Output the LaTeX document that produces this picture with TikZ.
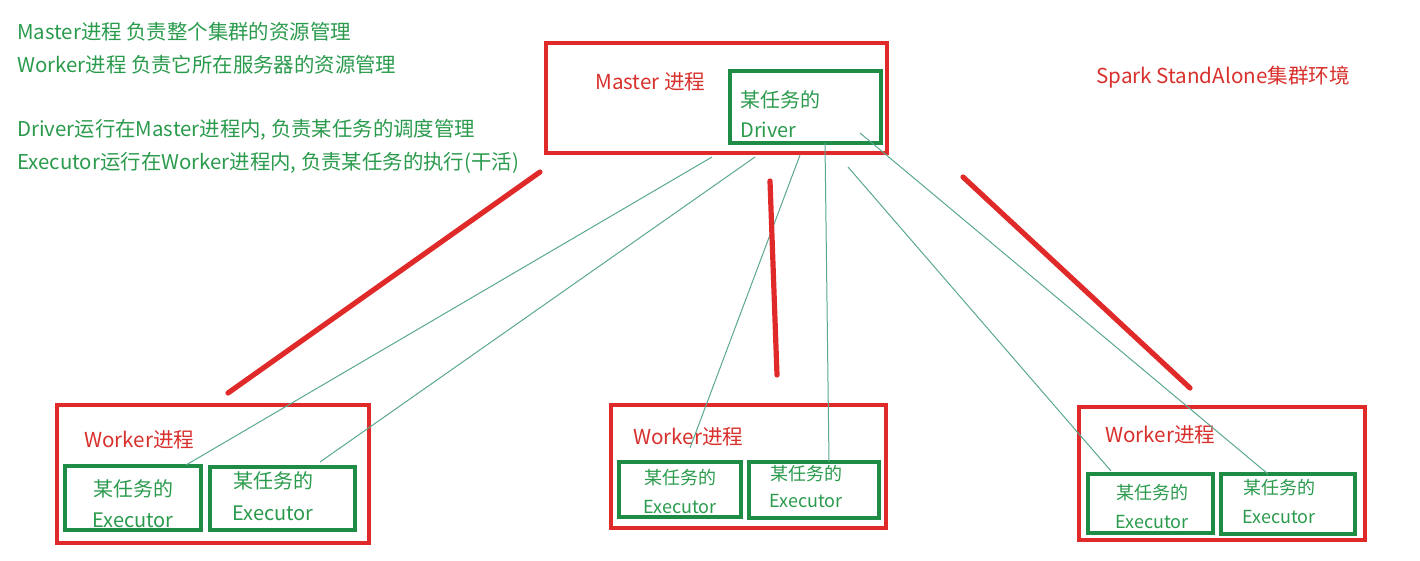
\documentclass[tikz,border=0pt]{standalone}
\usepackage{fontspec}
\setmainfont{Noto Sans CJK SC}
\definecolor{txtgreen}{HTML}{2A9A4C}
\definecolor{boxgreen}{HTML}{1E8C45}
\definecolor{boxred}{HTML}{E02A2A}
\definecolor{txtred}{HTML}{D8302C}
\definecolor{linkc}{HTML}{5AA890}
\tikzset{
  redbox/.style={draw=boxred,line width=2pt,inner sep=0pt},
  greenbox/.style={draw=boxgreen,line width=2pt,inner sep=0pt},
  note/.style={text=txtgreen,font=\fontsize{10.2}{12}\selectfont,anchor=west,inner sep=0pt},
  redlabel/.style={text=txtred,font=\fontsize{10.3}{12}\selectfont,anchor=west,inner sep=0pt},
  glabel/.style={text=txtgreen,font=\fontsize{10}{12}\selectfont,inner sep=0pt},
  slabel/.style={text=txtgreen,font=\fontsize{9}{11}\selectfont,inner sep=0pt},
  link/.style={draw=linkc,line width=0.5pt},
  stroke/.style={draw=boxred,line width=2.6pt,line cap=round}
}
\begin{document}
\begin{tikzpicture}[x=0.5pt,y=-0.5pt]
\useasboundingbox (0,0) rectangle (1420,561);
% notes
\node[note] (n1) at (17,32) {Master进程 负责整个集群的资源管理};
\node[note] (n2) at (17,65) {Worker进程 负责它所在服务器的资源管理};
\node[note] (n3) at (17,130) {Driver运行在Master进程内, 负责某任务的调度管理};
\node[note] (n4) at (17,163) {Executor运行在Worker进程内, 负责某任务的执行(干活)};
\node[redlabel] (title) at (1096,77) {Spark StandAlone集群环境};
% master
\node[redbox,minimum width=170.5pt,minimum height=55pt] (master) at (716.5,98) {};
\node[redlabel] (mlab) at (595,82) {Master 进程};
\node[greenbox,minimum width=75.5pt,minimum height=36pt] (driver) at (805.5,107) {};
\node[glabel,anchor=west] (d1) at (740,100) {某任务的};
\node[glabel,anchor=west] (d2) at (740,130) {Driver};
% worker 1
\node[redbox,minimum width=156pt,minimum height=69pt] (w1) at (213,474) {};
\node[redlabel] (w1lab) at (84,440) {Worker进程};
\node[greenbox,minimum width=68pt,minimum height=32pt] (e1) at (133,498) {};
\node[glabel] (e1a) at (133,489) {某任务的};
\node[glabel] (e1b) at (133,520) {Executor};
\node[greenbox,minimum width=72.5pt,minimum height=31.5pt] (e2) at (282.5,498.5) {};
\node[glabel] (e2a) at (273,481) {某任务的};
\node[glabel] (e2b) at (273,513) {Executor};
% worker 2
\node[redbox,minimum width=137.5pt,minimum height=61.5pt] (w2) at (748.5,466.5) {};
\node[redlabel] (w2lab) at (633,437) {Worker进程};
\node[greenbox,minimum width=61pt,minimum height=27.5pt] (e3) at (680,489.5) {};
\node[slabel] (e3a) at (680,478) {某任务的};
\node[slabel] (e3b) at (680,507) {Executor};
\node[greenbox,minimum width=65pt,minimum height=28pt] (e4) at (814,490) {};
\node[slabel] (e4a) at (806,474) {某任务的};
\node[slabel] (e4b) at (806,501) {Executor};
% worker 3
\node[redbox,minimum width=143pt,minimum height=66.5pt] (w3) at (1222,473.5) {};
\node[redlabel] (w3lab) at (1105,435) {Worker进程};
\node[greenbox,minimum width=62.5pt,minimum height=29.5pt] (e5) at (1150.5,503.5) {};
\node[slabel] (e5a) at (1152,493) {某任务的};
\node[slabel] (e5b) at (1152,522) {Executor};
\node[greenbox,minimum width=67pt,minimum height=30pt] (e6) at (1288,504) {};
\node[slabel] (e6a) at (1279,488) {某任务的};
\node[slabel] (e6b) at (1279,517) {Executor};
% link endpoints
\coordinate (s1) at (712,157);
\coordinate (s2) at (755,157);
\coordinate (s3) at (800,155);
\coordinate (s4) at (825,143);
\coordinate (s5) at (848,167);
\coordinate (s6) at (860,133);
\coordinate (t1) at (186,465);
\coordinate (t2) at (320,462);
\coordinate (t3) at (690,448);
\coordinate (t4) at (829,462);
\coordinate (t5) at (1111,471);
\coordinate (t6) at (1268,474);
\draw[link] (s1) -- (t1);
\draw[link] (s2) -- (t2);
\draw[link] (s3) -- (t3);
\draw[link] (s4) -- (t4);
\draw[link] (s5) -- (t5);
\draw[link] (s6) -- (t6);
% red strokes
\coordinate (r1a) at (540,172); \coordinate (r1b) at (228,393);
\coordinate (r2a) at (770,181); \coordinate (r2b) at (777,375);
\coordinate (r3a) at (963,177); \coordinate (r3b) at (1190,388);
\draw[stroke] (r1a) -- (r1b);
\draw[stroke] (r2a) -- (r2b);
\draw[stroke] (r3a) -- (r3b);
\end{tikzpicture}
\end{document}
